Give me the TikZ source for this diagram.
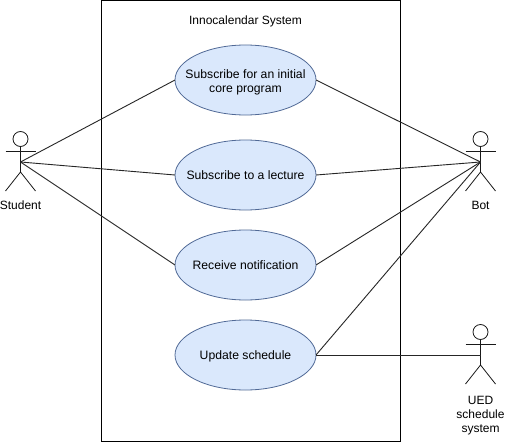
\documentclass[tikz,border=0pt]{standalone}
\usepackage{fontspec}
\setmainfont{Liberation Sans}
\usetikzlibrary{shapes.geometric}
\definecolor{ucfill}{RGB}{218,232,252}
\definecolor{ucline}{RGB}{80,105,150}
\tikzset{
  usecase/.style={ellipse,draw=ucline,line width=0.8pt,fill=ucfill,minimum width=141pt,minimum height=70pt,inner sep=0pt,outer sep=0pt,font=\fontsize{12.2}{14.5}\selectfont},
  label text/.style={align=center,inner sep=0pt,font=\fontsize{12}{14}\selectfont},
  link/.style={draw=black!85,line width=0.9pt},
  figure line/.style={draw=black!90,line width=0.8pt}
}
\newcommand{\uctext}[2][-0.36em]{\makebox[0pt][c]{\raisebox{#1}[0pt][0pt]{\begin{tabular}{@{}c@{}}#2\end{tabular}}}}
\newcommand{\actorfig}[3]{%
  \coordinate (#3) at (#1,#2);
  \draw[figure line] (#1,#2-23) circle[radius=7.5];
  \draw[figure line] (#1,#2-15.5) -- (#1,#2+10);
  \draw[figure line] (#1-15,#2-11) -- (#1+15,#2-11);
  \draw[figure line] (#1-15,#2+29) -- (#1,#2+10) -- (#1+15,#2+29);
}
\begin{document}
\begin{tikzpicture}[x=1pt,y=-1pt]
\useasboundingbox (0,0) rectangle (505,441);
\fill[white] (0,0) rectangle (505,441);
\node[draw=black,line width=0.9pt,minimum width=299pt,minimum height=440pt,anchor=north west,inner sep=0pt] (sys) at (101,0.5) {};
\node[label text] (title) at (245.5,21) {Innocalendar System};
\actorfig{20.5}{162}{student}
\actorfig{480.5}{162}{bot}
\actorfig{480.5}{355}{ued}
\node[usecase] (uc1) at (245.5,80) {\uctext[-0.45em]{Subscribe for an initial\\core program}};
\node[usecase] (uc2) at (245.5,175) {\uctext{Subscribe to a lecture}};
\node[usecase] (uc3) at (245.5,265) {\uctext{Receive notification}};
\node[usecase] (uc4) at (245.5,355) {\uctext{Update schedule}};
\node[label text] (lstudent) at (20.5,205.5) {Student};
\node[label text] (lbot) at (480.5,205.5) {Bot};
\node[label text] (lued) at (480.5,415.5) {UED\\schedule\\system};
\draw[link] (student) -- (uc1.west);
\draw[link] (student) -- (uc2.west);
\draw[link] (student) -- (uc3.west);
\draw[link] (bot) -- (uc1.east);
\draw[link] (bot) -- (uc2.east);
\draw[link] (bot) -- (uc3.east);
\draw[link] (bot) -- (uc4.east);
\draw[link] (ued) -- (uc4.east);
\end{tikzpicture}
\end{document}
